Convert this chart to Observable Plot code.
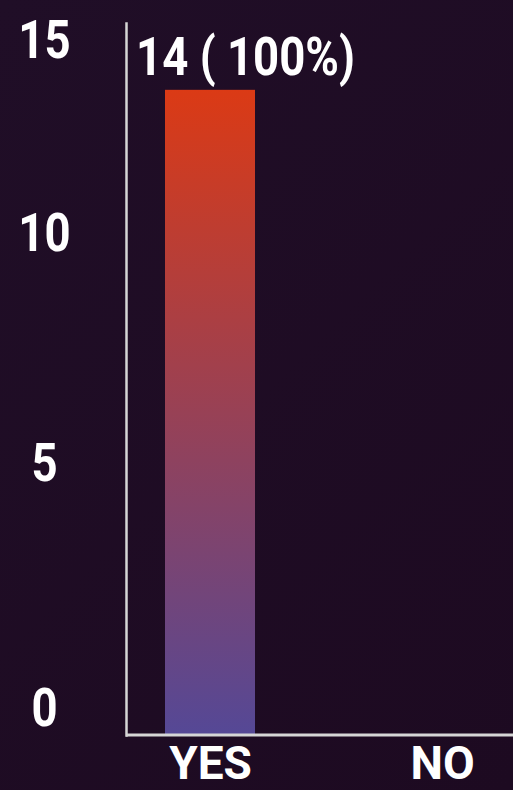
<!DOCTYPE html>
<html>
<head>
<meta charset="utf-8">
<script src="https://cdn.jsdelivr.net/npm/d3@7"></script>
<script src="https://cdn.jsdelivr.net/npm/@observablehq/plot@0.6"></script>
<style>
  html, body { margin: 0; padding: 0; background: #1e0c24; }
  #chart svg { display: block; }
</style>
</head>
<body>
<div id="chart"></div>
<script>
const categories = ["YES", "NO"];
const counts = [14, 0];
const percents = [100, 0];
const yTicksLow = [0];
const yTicksMid = [5, 10];
const yTicksTop = [15];
const yMax = 15.45;

const data = categories.map((c, i) => ({answer: c, count: counts[i], pct: percents[i]}));

const FONT = 'Roboto, "Noto Sans", sans-serif';

const gradientDefs = () => {
  const defs = d3.create("svg:defs");
  const g = defs.append("linearGradient")
    .attr("id", "barGrad")
    .attr("x1", 0).attr("y1", 0).attr("x2", 0).attr("y2", 1);
  g.append("stop").attr("offset", "0%").attr("stop-color", "#db3a15");
  g.append("stop").attr("offset", "100%").attr("stop-color", "#554896");
  return defs.node();
};

const yAxisStyle = {tickSize: 0, tickPadding: 82, textAnchor: "middle", fontSize: 53, fill: "#ffffff", label: null};

const chart = Plot.plot({
  width: 513,
  height: 790,
  marginLeft: 126,
  marginRight: 0,
  marginTop: 23,
  marginBottom: 55,
  style: {
    background: "linear-gradient(135deg, #200e27, #1d0a21)",
    color: "#ffffff",
    fontFamily: FONT,
    fontWeight: "bold",
    overflow: "visible"
  },
  x: {domain: categories, range: [126, 526.5], paddingInner: 0.613, paddingOuter: 0.168, label: null},
  y: {domain: [0, yMax], label: null},
  marks: [
    gradientDefs,
    Plot.barY(data, {x: "answer", y: "count", fill: "url(#barGrad)"}),
    Plot.ruleY([0], {stroke: "#d6d6d6", strokeWidth: 3, dy: -0.5}),
    Plot.frame({anchor: "left", stroke: "#d6d6d6", strokeWidth: 2.5}),
    Plot.axisY({...yAxisStyle, ticks: yTicksLow, dy: -26}),
    Plot.axisY({...yAxisStyle, ticks: yTicksMid, dy: -41}),
    Plot.axisY({...yAxisStyle, ticks: yTicksTop, dy: -3}),
    Plot.axisX({tickSize: 0, tickPadding: 11, fontSize: 46, fill: "#ffffff", label: null}),
    Plot.text(data.filter(d => d.count > 0), {
      x: "answer", y: "count",
      text: d => `${d.count} ( ${d.pct}%)`,
      textAnchor: "middle", lineAnchor: "bottom",
      dx: 35, dy: -15, fontSize: 53, fill: "#ffffff"
    })
  ]
});

// narrow the numeric labels horizontally (condensed look) around their own anchor
chart.querySelectorAll('g[aria-label="y-axis tick label"] text, g[aria-label="text"] text').forEach(t => {
  const tr = t.getAttribute("transform") || "";
  t.setAttribute("transform", tr + " scale(0.86,1)");
});

document.getElementById("chart").append(chart);
</script>
</body>
</html>
